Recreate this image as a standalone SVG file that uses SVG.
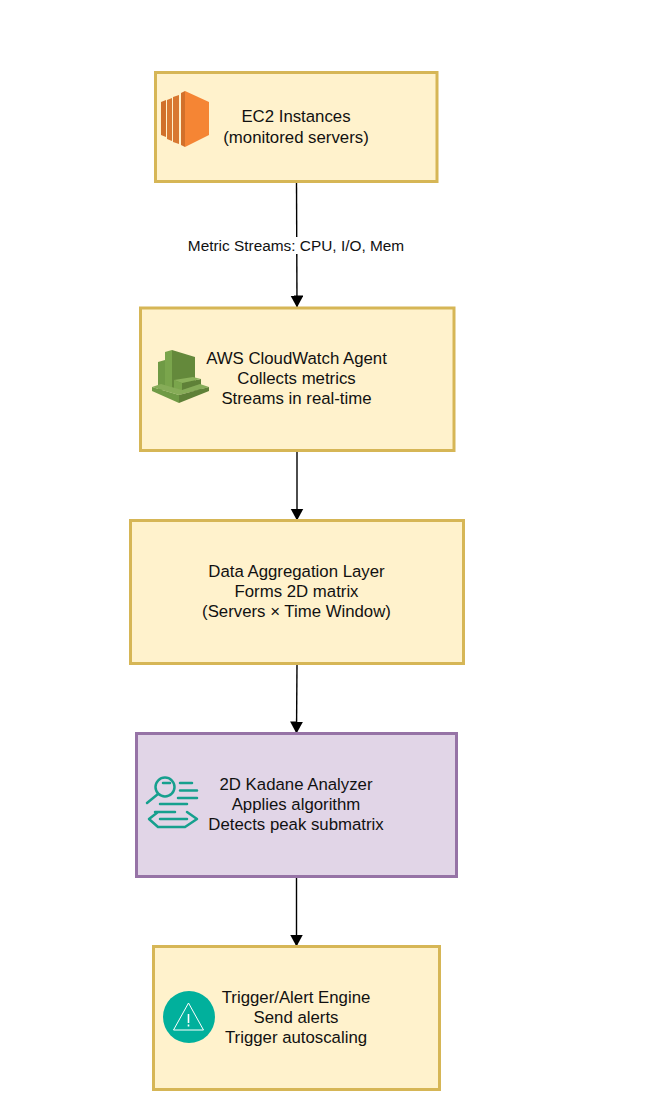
<svg xmlns="http://www.w3.org/2000/svg" width="652" height="1119" viewBox="0 0 652 1119">
<style>
.y{fill:#fff2cc;stroke:#d6b656;stroke-width:3}
.p{fill:#e1d5e7;stroke:#9673a6;stroke-width:3}
text{font-family:"Liberation Sans",Arial,sans-serif;font-size:16.800px;fill:#111;text-anchor:middle}
.c{stroke:#000;stroke-width:1.400;fill:none;marker-end:url(#a)}
.t{stroke:#16a08e;stroke-width:2.500;fill:none;stroke-linecap:round;stroke-linejoin:round}
</style>
<defs><marker id="a" markerUnits="userSpaceOnUse" markerWidth="12" markerHeight="14" refX="11.500" refY="6.500" orient="auto"><path d="M0 0L12 6.500L0 13z" fill="#000"/></marker></defs>
<rect width="652" height="1119" fill="#fff"/>
<g id="connectors">
<path class="c" d="M296.500 182L297 307"/>
<path class="c" d="M297 451L297 520"/>
<path class="c" d="M297 664L296.500 733"/>
<path class="c" d="M296.500 877L296.500 946"/>
<rect x="187" y="237" width="218" height="17" fill="#fff"/>
<text x="296" y="251" style="font-size:15.400px">Metric Streams: CPU, I/O, Mem</text>
</g>
<g id="ec2">
<rect class="y" x="155.500" y="72.500" width="281.500" height="109"/>
<path fill="#d0702a" d="M161 102l5-2v37l-5-2z"/>
<path fill="#d87830" d="M167 100l5-2v43l-5-2z"/>
<path fill="#d87830" d="M173 97l6-2v49l-6-2z"/>
<path fill="#d2702a" d="M181 93l4-2v56l-4-2z"/>
<path fill="#f58534" d="M185 91L209 102V135L185 147z"/>
<text x="296" y="122">EC2 Instances</text><text x="296" y="143">(monitored servers)</text>
</g>
<g id="cloudwatch">
<rect class="y" x="140.500" y="308" width="313.500" height="142.500"/>
<path fill="#6f9a45" d="M158 362l7-2v30h-7z"/>
<path fill="#7aa54c" d="M165 352l7-2v40h-7z"/>
<path fill="#64893b" d="M172 350l23 7v31h-23z"/>
<path fill="#7aa54c" d="M174 380l8 3v9l-8-2z"/>
<path fill="#5f8138" d="M182 383l19-4v11l-19 3z"/>
<path fill="#8bb15b" d="M174 380l19-3 8 2-19 4z"/>
<path fill="#86ac58" d="M152 387l9-3 21 6 18-6 9 3-30 8z"/>
<path fill="#6f9a45" d="M152 387v4l27 12v-8z"/>
<path fill="#5f8138" d="M209 387v4l-30 12v-8z"/>
<text x="296.500" y="364">AWS CloudWatch Agent</text><text x="296.500" y="384">Collects metrics</text><text x="296.500" y="404">Streams in real-time</text>
</g>
<g id="aggregation">
<rect class="y" x="130.500" y="520.500" width="333" height="143"/>
<text x="296.500" y="577">Data Aggregation Layer</text><text x="296.500" y="597">Forms 2D matrix</text><text x="296.500" y="617">(Servers × Time Window)</text>
</g>
<g id="kadane">
<rect class="p" x="136.500" y="733.500" width="320" height="143"/>
<circle class="t" cx="165" cy="787" r="9.500"/>
<path class="t" d="M158 794L147 803M163 783h7M180 783h12M180 790.500h17M178 798h19M160 804h27M155 812h20M160 819h27M158 812L149 819L158 827H185L197 819L187 812"/>
<text x="296" y="790">2D Kadane Analyzer</text><text x="296" y="810">Applies algorithm</text><text x="296" y="830">Detects peak submatrix</text>
</g>
<g id="trigger">
<rect class="y" x="153.500" y="946.500" width="286" height="143"/>
<circle cx="189" cy="1017" r="26" fill="#01b09c"/>
<path d="M188.500 1003L173.500 1030H203.500z" fill="none" stroke="#fff" stroke-width="1"/>
<path d="M188.500 1014v9M188.500 1024.500v2" stroke="#fff" stroke-width="1.600" fill="none"/>
<text x="296" y="1003">Trigger/Alert Engine</text><text x="296" y="1023">Send alerts</text><text x="296" y="1043">Trigger autoscaling</text>
</g>
</svg>
